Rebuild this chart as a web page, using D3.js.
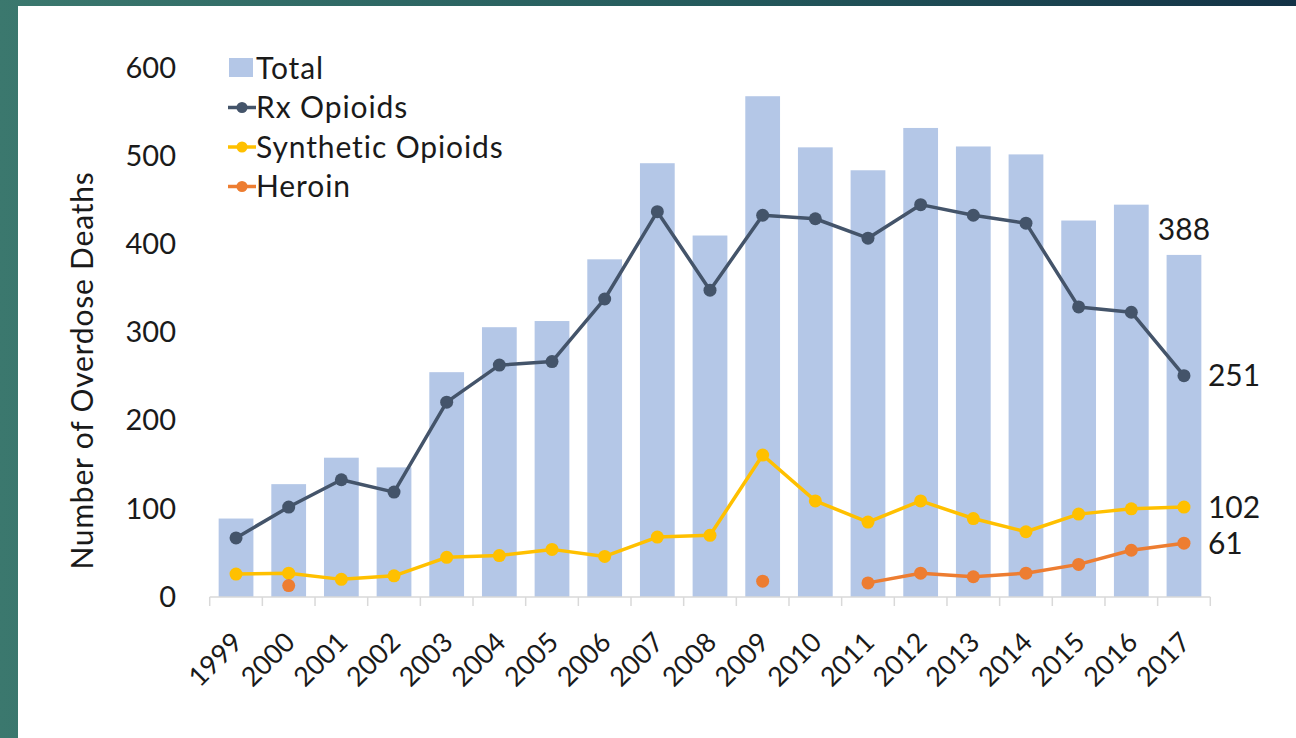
<!DOCTYPE html>
<html>
<head>
<meta charset="utf-8">
<script src="https://cdn.jsdelivr.net/npm/d3@7"></script>
<style>
body { margin: 0; overflow: hidden; }
text { font-family: Lato, "Open Sans", sans-serif; fill: #1a1a1a; }
</style>
</head>
<body>
<script>
const years = ['1999','2000','2001','2002','2003','2004','2005','2006','2007','2008',
	'2009','2010','2011','2012','2013','2014','2015','2016','2017']
const total = [89, 128, 158, 147, 255, 306, 313, 383, 492, 410, 568, 510, 484, 532, 511, 502, 427, 445, 388]
const rx = [67, 102, 133, 119, 221, 263, 267, 338, 437, 348, 433, 429, 407, 445, 433, 424, 329, 323, 251]
const synthetic = [26, 27, 20, 24, 45, 47, 54, 46, 68, 70, 161, 109, 85, 109, 89, 74, 94, 100, 102]
const heroin = [null, 13, null, null, null, null, null, null, null, null, 18, null, 16, 27, 23, 27, 37, 53, 61]
const yTicks = [0, 100, 200, 300, 400, 500, 600]

const width = 1296
const height = 738

const svg = d3.select('body')
	.append('svg')
	.attr('width', width)
	.attr('height', height)

// teal slide frame
const grad = svg.append('defs').append('linearGradient')
	.attr('id', 'bg')
	.attr('x1', '0%').attr('x2', '100%')
grad.append('stop').attr('offset', '0%').attr('stop-color', '#3b786e')
grad.append('stop').attr('offset', '55%').attr('stop-color', '#245a5c')
grad.append('stop').attr('offset', '100%').attr('stop-color', '#133246')
svg.append('rect').attr('width', width).attr('height', height).attr('fill', 'url(#bg)')
svg.append('rect').attr('x', 18).attr('y', 6).attr('width', width - 18).attr('height', height - 6).attr('fill', '#fff')

const xScale = d3.scaleBand()
	.domain(years)
	.range([209.7, 1210.3])
	.paddingInner(0.34)
	.paddingOuter(0.17)

const yScale = d3.scaleLinear()
	.domain([0, 600])
	.range([597, 68])

const cx = d => xScale(d) + xScale.bandwidth() / 2

// bars
svg.selectAll('rect.bar')
	.data(total)
	.enter()
	.append('rect')
	.attr('class', 'bar')
	.attr('x', (d, i) => xScale(years[i]))
	.attr('y', d => yScale(d))
	.attr('width', xScale.bandwidth())
	.attr('height', d => yScale(0) - yScale(d))
	.attr('fill', '#b4c7e7')

// x axis
const xAxis = svg.append('g')
	.attr('transform', `translate(0,${yScale(0)})`)
	.call(d3.axisBottom(xScale).tickSize(0).tickFormat(''))
xAxis.select('.domain').attr('stroke', '#d9d9d9').attr('stroke-width', 1.5)
	.attr('d', 'M209.7,0H1210.3')
const step = xScale.step()
xAxis.selectAll('line.sep')
	.data(d3.range(years.length + 1))
	.enter()
	.append('line')
	.attr('class', 'sep')
	.attr('x1', i => 209.7 + i * step)
	.attr('x2', i => 209.7 + i * step)
	.attr('y1', 0)
	.attr('y2', 9)
	.attr('stroke', '#d9d9d9')
	.attr('stroke-width', 1.5)

svg.selectAll('text.xlab')
	.data(years)
	.enter()
	.append('text')
	.attr('class', 'xlab')
	.attr('text-anchor', 'end')
	.attr('font-size', 27)
	.attr('transform', d => `translate(${cx(d) + 8},${yScale(0) + 47}) rotate(-45)`)
	.text(d => d)

// y axis
const yAxis = svg.append('g')
	.attr('transform', 'translate(176,0)')
	.call(d3.axisLeft(yScale).tickValues(yTicks).tickSize(0).tickPadding(0))
yAxis.select('.domain').remove()
yAxis.selectAll('text')
	.attr('font-size', 29)
	.attr('font-family', 'Lato, sans-serif')
	.attr('fill', '#1a1a1a')

svg.append('text')
	.attr('transform', `translate(93,${(yScale(0) + yScale(600)) / 2 + 38}) rotate(-90)`)
	.attr('text-anchor', 'middle')
	.attr('font-size', 30)
	.attr('letter-spacing', 0.8)
	.text('Number of Overdose Deaths')

// lines
const series = [
	{ name: 'Rx Opioids', values: rx, color: '#44546a' },
	{ name: 'Synthetic Opioids', values: synthetic, color: '#ffc000' },
	{ name: 'Heroin', values: heroin, color: '#ed7d31' }
]

const line = d3.line()
	.defined(d => d != null)
	.x((d, i) => cx(years[i]))
	.y(d => yScale(d))

series.forEach(s => {
	svg.append('path')
		.datum(s.values)
		.attr('d', line)
		.attr('fill', 'none')
		.attr('stroke', s.color)
		.attr('stroke-width', 3.5)
		.attr('stroke-linejoin', 'round')

	svg.append('g').selectAll('circle')
		.data(s.values.map((v, i) => [v, i]).filter(d => d[0] != null))
		.enter()
		.append('circle')
		.attr('cx', d => cx(years[d[1]]))
		.attr('cy', d => yScale(d[0]))
		.attr('r', 6.5)
		.attr('fill', s.color)
})

// end labels
const last = years.length - 1
svg.append('text')
	.attr('x', cx(years[last]))
	.attr('y', yScale(total[last]) - 15)
	.attr('text-anchor', 'middle')
	.attr('font-size', 30)
	.text(total[last])

series.forEach(s => {
	svg.append('text')
		.attr('x', cx(years[last]) + 24)
		.attr('y', yScale(s.values[last]))
		.attr('dy', '0.35em')
		.attr('font-size', 30)
		.text(s.values[last])
})

// legend
const legend = svg.append('g').attr('transform', 'translate(228,68)')
legend.append('rect')
	.attr('x', 1).attr('y', -10).attr('width', 24).attr('height', 19)
	.attr('fill', '#b4c7e7')
legend.append('text')
	.attr('x', 28).attr('y', 0).attr('dy', '0.35em')
	.attr('font-size', 30)
	.attr('letter-spacing', 0.9)
	.text('Total')

series.forEach((s, i) => {
	const g = legend.append('g').attr('transform', `translate(0,${(i + 1) * 39.5})`)
	g.append('line')
		.attr('x1', 0).attr('x2', 28).attr('y1', 0).attr('y2', 0)
		.attr('stroke', s.color).attr('stroke-width', 3.5)
	g.append('circle').attr('cx', 14).attr('cy', 0).attr('r', 5.5).attr('fill', s.color)
	g.append('text')
		.attr('x', 28).attr('y', 0).attr('dy', '0.35em')
		.attr('font-size', 30)
		.attr('letter-spacing', 0.9)
		.text(s.name)
})
</script>
</body>
</html>
